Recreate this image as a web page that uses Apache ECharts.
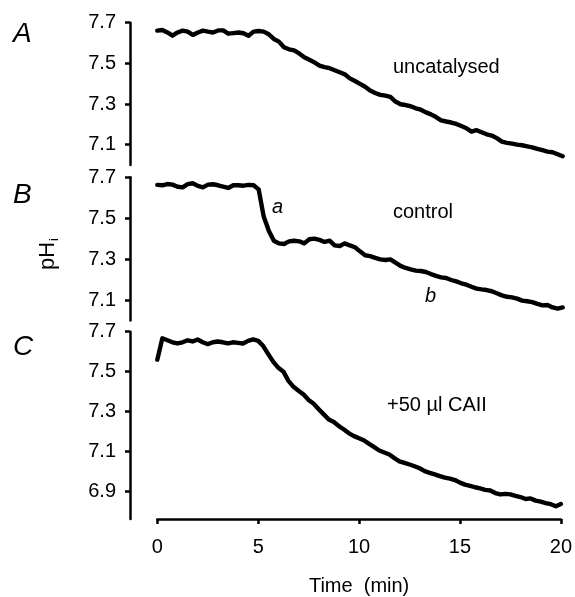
<!DOCTYPE html>
<html>
<head>
<meta charset="utf-8">
<script src="https://cdn.jsdelivr.net/npm/echarts@6/dist/echarts.min.js"></script>
<style>
  html, body { margin: 0; padding: 0; background: #fff; }
  #chart { width: 575px; height: 597px; }
</style>
</head>
<body>
<div id="chart"></div>
<script>
// Sample times (min), shared by all three recordings
const minutes = [
  0, 0.25, 0.5, 0.75, 1, 1.25, 1.5, 1.75, 2, 2.25, 2.5, 2.75, 3, 3.25, 3.5, 3.75,
  4, 4.25, 4.5, 4.75, 5, 5.25, 5.5, 5.75, 6, 6.25, 6.5, 6.75, 7, 7.25, 7.5, 7.75,
  8, 8.25, 8.5, 8.75, 9, 9.25, 9.5, 9.75, 10, 10.25, 10.5, 10.75, 11, 11.25, 11.5, 11.75,
  12, 12.25, 12.5, 12.75, 13, 13.25, 13.5, 13.75, 14, 14.25, 14.5, 14.75, 15, 15.25, 15.5, 15.75,
  16, 16.25, 16.5, 16.75, 17, 17.25, 17.5, 17.75, 18, 18.25, 18.5, 18.75, 19, 19.25, 19.5, 19.75, 20
];

// A: uncatalysed
const phUncatalysed = [
  7.661, 7.664, 7.652, 7.636, 7.652, 7.661, 7.656, 7.640, 7.652, 7.661, 7.656, 7.652, 7.662, 7.662, 7.646, 7.649,
  7.652, 7.648, 7.636, 7.656, 7.659, 7.656, 7.643, 7.620, 7.607, 7.579, 7.569, 7.564, 7.549, 7.530, 7.518, 7.505,
  7.489, 7.482, 7.476, 7.466, 7.456, 7.446, 7.426, 7.413, 7.399, 7.385, 7.366, 7.354, 7.345, 7.341, 7.335, 7.312,
  7.299, 7.295, 7.289, 7.279, 7.272, 7.259, 7.249, 7.236, 7.220, 7.214, 7.209, 7.202, 7.192, 7.181, 7.164, 7.171,
  7.161, 7.151, 7.145, 7.132, 7.115, 7.109, 7.105, 7.100, 7.097, 7.092, 7.087, 7.079, 7.073, 7.066, 7.063, 7.053, 7.043
];

// B: control
const phControl = [
  7.663, 7.661, 7.667, 7.664, 7.654, 7.651, 7.667, 7.671, 7.658, 7.651, 7.664, 7.666, 7.661, 7.654, 7.648, 7.661,
  7.661, 7.659, 7.663, 7.661, 7.641, 7.508, 7.439, 7.390, 7.377, 7.374, 7.387, 7.390, 7.387, 7.377, 7.397, 7.400,
  7.394, 7.384, 7.390, 7.367, 7.364, 7.377, 7.367, 7.358, 7.338, 7.319, 7.315, 7.306, 7.299, 7.296, 7.299, 7.283,
  7.267, 7.257, 7.250, 7.244, 7.242, 7.237, 7.227, 7.218, 7.211, 7.208, 7.198, 7.191, 7.182, 7.175, 7.165, 7.156,
  7.152, 7.149, 7.143, 7.133, 7.123, 7.116, 7.113, 7.107, 7.097, 7.094, 7.090, 7.081, 7.074, 7.076, 7.064, 7.058, 7.064
];

// C: +50 µl CAII
const phCAII = [
  7.560, 7.667, 7.657, 7.647, 7.641, 7.647, 7.657, 7.651, 7.661, 7.647, 7.638, 7.647, 7.651, 7.647, 7.641, 7.647,
  7.644, 7.641, 7.654, 7.661, 7.654, 7.628, 7.588, 7.549, 7.519, 7.500, 7.454, 7.424, 7.404, 7.385, 7.358, 7.339,
  7.312, 7.286, 7.260, 7.248, 7.227, 7.210, 7.191, 7.177, 7.166, 7.155, 7.138, 7.122, 7.105, 7.095, 7.085, 7.067,
  7.051, 7.043, 7.035, 7.026, 7.016, 7.002, 6.993, 6.985, 6.977, 6.969, 6.964, 6.957, 6.944, 6.934, 6.928, 6.921,
  6.915, 6.908, 6.905, 6.892, 6.885, 6.888, 6.885, 6.878, 6.872, 6.862, 6.865, 6.854, 6.849, 6.842, 6.836, 6.826, 6.837
];

const ticksAB = [7.1, 7.3, 7.5, 7.7];
const ticksC = [6.9, 7.1, 7.3, 7.5, 7.7];
const timeTicks = [0, 5, 10, 15, 20];

const FONT = '"Liberation Sans", Arial, Helvetica, sans-serif';
const INK = '#000';

const chart = echarts.init(document.getElementById('chart'), null, { renderer: 'canvas' });

const panels = [
  { top: 22.7, height: 142.3, min: 7.0, max: 7.7, ticks: ticksAB, values: phUncatalysed },
  { top: 177.3, height: 143.2, min: 7.0, max: 7.7, ticks: ticksAB, values: phControl },
  { top: 331.7, height: 190.3, min: 6.762, max: 7.7, ticks: ticksC, values: phCAII }
];

const grids = panels.map(p => ({ left: 157.3, width: 405.4, top: p.top, height: p.height }));

const xAxes = panels.map((p, i) => {
  const last = i === panels.length - 1;
  return {
    type: 'value',
    gridIndex: i,
    min: 0, max: 20, interval: 5,
    show: last,
    axisLine: { show: last, onZero: false, lineStyle: { color: INK, width: 2.5 } },
    axisTick: { show: last, inside: false, length: 5, lineStyle: { color: INK, width: 2.5 } },
    axisLabel: { show: last, margin: 18, color: INK, fontSize: 20, fontFamily: FONT,
      customValues: timeTicks },
    splitLine: { show: false },
    name: last ? 'Time  (min)' : '',
    nameLocation: 'middle',
    nameGap: 57,
    nameTextStyle: { color: INK, fontSize: 20, fontFamily: FONT }
  };
});

// y axes sit to the left of the plotting area, detached from t = 0
const yAxes = panels.map((p, i) => ({
  type: 'value',
  gridIndex: i,
  position: 'left',
  offset: 27.3,
  min: p.min, max: p.max,
  axisLine: { show: true, onZero: false, lineStyle: { color: INK, width: 2.5 } },
  axisTick: { show: true, inside: false, length: 5, lineStyle: { color: INK, width: 2.5 },
    customValues: p.ticks },
  axisLabel: { show: true, margin: 14, color: INK, fontSize: 20, fontFamily: FONT,
    customValues: p.ticks, formatter: v => v.toFixed(1) },
  splitLine: { show: false }
}));

const series = panels.map((p, i) => ({
  type: 'line',
  xAxisIndex: i,
  yAxisIndex: i,
  data: minutes.map((t, k) => [t, p.values[k]]),
  showSymbol: false,
  symbol: 'none',
  clip: false,
  lineStyle: { color: INK, width: 4.4, join: 'round', cap: 'round' },
  animation: false
}));

const textStyle = (extra) => Object.assign({ fill: INK, fontFamily: FONT }, extra);

const graphic = [
  { type: 'text', left: 13, top: 20, style: textStyle({ text: 'A', fontSize: 28, fontStyle: 'italic' }) },
  { type: 'text', left: 13, top: 181, style: textStyle({ text: 'B', fontSize: 28, fontStyle: 'italic' }) },
  { type: 'text', left: 13, top: 333, style: textStyle({ text: 'C', fontSize: 28, fontStyle: 'italic' }) },
  {
    type: 'text', x: 48, y: 254, rotation: Math.PI / 2,
    style: textStyle({
      text: '{p|pH}{s|i}', align: 'center', verticalAlign: 'middle',
      rich: {
        p: { fontSize: 22, fontFamily: FONT, fill: INK },
        s: { fontSize: 13, fontFamily: FONT, fill: INK, padding: [12, 0, 0, 1] }
      }
    })
  },
  { type: 'text', left: 393, top: 57, style: textStyle({ text: 'uncatalysed', fontSize: 20 }) },
  { type: 'text', left: 393, top: 202, style: textStyle({ text: 'control', fontSize: 20 }) },
  { type: 'text', left: 272, top: 197, style: textStyle({ text: 'a', fontSize: 20, fontStyle: 'italic' }) },
  { type: 'text', left: 425, top: 286, style: textStyle({ text: 'b', fontSize: 20, fontStyle: 'italic' }) },
  { type: 'text', left: 387, top: 395, style: textStyle({ text: '+50 µl CAII', fontSize: 20 }) }
];

chart.setOption({
  animation: false,
  backgroundColor: '#fff',
  grid: grids,
  xAxis: xAxes,
  yAxis: yAxes,
  series: series,
  graphic: graphic
});
</script>
</body>
</html>
